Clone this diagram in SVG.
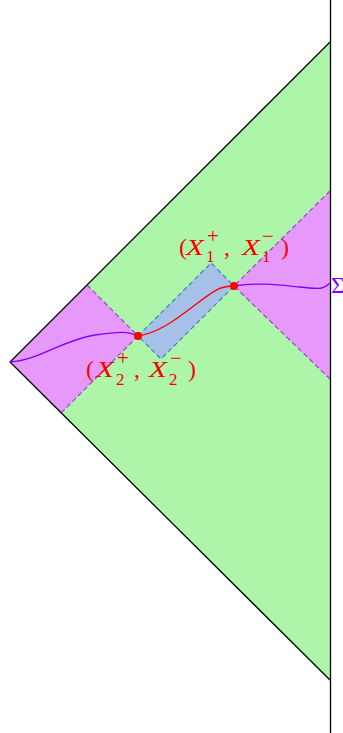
<svg xmlns="http://www.w3.org/2000/svg" width="343" height="733" viewBox="0 0 343 733">
<style>
.edge{stroke:#000;stroke-width:1.3;fill:none}
.dm{stroke:#9a45d6;stroke-width:1.2;stroke-dasharray:5 3;fill:none}
.db{stroke:#3a86c4;stroke-width:1.2;stroke-dasharray:5 3;fill:none}
.pc{stroke:#8000ff;stroke-width:1.3;fill:none}
.rc{stroke:#ff0000;stroke-width:1.3;fill:none}
.lab{font-family:"Liberation Serif",serif;fill:#ff0000}
.it{font-style:italic;font-size:24px}
.rm{font-size:24px}
.sc{font-size:17px}
.sp{font-size:21px}
</style>
<rect width="343" height="733" fill="#fff"/>
<g id="spacetime">
<polygon points="330,42 10,362 330,680" fill="#adf5a8"/>
</g>
<g id="wedge-left">
<polygon points="10,362 87,285 138,336 61,413" fill="#e699fb"/>
</g>
<g id="wedge-right">
<polygon points="234,286 330,191 330,379" fill="#e699fb"/>
</g>
<g id="diamond">
<polygon points="138,336 211,263 234,286 161,359" fill="#a6c0e8"/>
</g>
<g id="connectors">
<polyline class="dm" points="87,285 138,336 61,413"/>
<polyline class="dm" points="330,191 234,286 330,379"/>
<polygon class="db" points="138,336 211,263 234,286 161,359"/>
<polyline class="edge" points="330,42 10,362 330,680"/>
<line class="edge" x1="330.5" y1="0" x2="330.5" y2="733"/>
<path class="pc" d="M10,362 C40,360 62,340 95,335 S130,333 138,336"/>
<path class="rc" d="M138,336 C160,332 175,320 195,305 S220,286 234,286"/>
<path class="pc" d="M234,286 C260,282 280,285 300,287 S322,290 330,283"/>
</g>
<g id="X1">
<circle cx="234" cy="286" r="4" fill="#ff0000"/>
<text class="lab rm" x="179" y="255">(</text>
<text class="lab it" x="186" y="255" textLength="18" lengthAdjust="spacingAndGlyphs">X</text>
<text class="lab sp" x="207" y="243">+</text>
<text class="lab sc" x="206" y="262">1</text>
<text class="lab rm" x="224" y="255">,</text>
<text class="lab it" x="242" y="255" textLength="18" lengthAdjust="spacingAndGlyphs">X</text>
<text class="lab sp" x="262" y="243">−</text>
<text class="lab sc" x="262" y="262">1</text>
<text class="lab rm" x="281" y="255">)</text>
</g>
<g id="X2">
<circle cx="138" cy="336" r="4" fill="#ff0000"/>
<text class="lab rm" x="86" y="377">(</text>
<text class="lab it" x="96" y="377" textLength="18" lengthAdjust="spacingAndGlyphs">X</text>
<text class="lab sp" x="117" y="365">+</text>
<text class="lab sc" x="116" y="385">2</text>
<text class="lab rm" x="134" y="377">,</text>
<text class="lab it" x="149" y="377" textLength="18" lengthAdjust="spacingAndGlyphs">X</text>
<text class="lab sp" x="170" y="365">−</text>
<text class="lab sc" x="169" y="385">2</text>
<text class="lab rm" x="188" y="377">)</text>
</g>
<g id="Sigma">
<text x="331" y="293" font-family="Liberation Serif, serif" font-size="24" fill="#8000ff">Σ</text>
</g>
</svg>
